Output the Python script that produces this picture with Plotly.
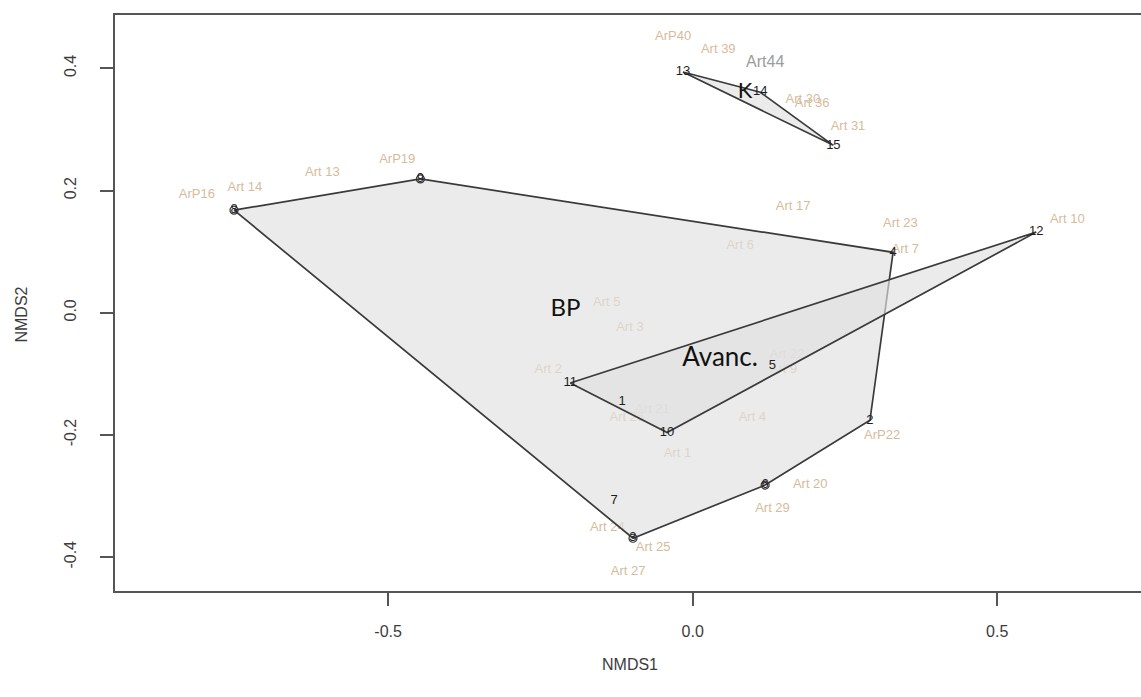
import plotly.graph_objects as go

# ---- site scores (NMDS1, NMDS2) ----
site_ids = ["1", "2", "3", "4", "5", "6", "7", "8", "9", "10", "11", "12", "13", "14", "15"]
site_x = [-0.116, 0.291, -0.098, 0.329, 0.131, 0.119, -0.129, -0.753, -0.447, -0.042, -0.201, 0.564, -0.016, 0.111, 0.231]
site_y = [-0.146, -0.176, -0.369, 0.099, -0.086, -0.282, -0.307, 0.168, 0.219, -0.196, -0.115, 0.132, 0.394, 0.361, 0.274]
site_group = ["Avanc.", "BP", "BP", "BP", "Avanc.", "BP", "BP", "BP", "BP", "Avanc.", "Avanc.", "Avanc.", "K", "K", "K"]
circled_sites = ["3", "6", "8", "9"]

# ---- species scores ----
species = ["ArP40", "Art 39", "Art44", "Art 30", "Art 36", "Art 31", "ArP16", "Art 14", "Art 13", "ArP19",
           "Art 17", "Art 23", "Art 7", "Art 10", "Art 6", "Art 5", "Art 3", "Art 2", "Art 22", "Art 9",
           "Art 21", "Art 26", "Art 4", "Art 1", "ArP22", "Art 20", "Art 29", "Art 24", "Art 25", "Art 27"]
species_x = [-0.032, 0.042, 0.119, 0.181, 0.196, 0.255, -0.814, -0.735, -0.608, -0.485,
             0.165, 0.341, 0.349, 0.615, 0.078, -0.141, -0.103, -0.237, 0.155, 0.149,
             -0.066, -0.108, 0.098, -0.025, 0.311, 0.193, 0.131, -0.140, -0.065, -0.106]
species_y = [0.451, 0.430, 0.409, 0.348, 0.342, 0.304, 0.193, 0.204, 0.230, 0.250,
             0.173, 0.145, 0.103, 0.153, 0.109, 0.016, -0.025, -0.094, -0.069, -0.094,
             -0.159, -0.172, -0.172, -0.230, -0.202, -0.282, -0.321, -0.352, -0.385, -0.424]

# ---- group labels ----
groups = ["BP", "Avanc.", "K"]
group_label_x = [-0.209, 0.045, 0.086]
group_label_y = [0.004, -0.077, 0.361]

x_range = [-0.950, 0.736]
y_range = [-0.457, 0.489]
x_ticks = [-0.5, 0.0, 0.5]
y_ticks = [-0.4, -0.2, 0.0, 0.2, 0.4]


def convex_hull(pts):
    pts = sorted(set(pts))
    if len(pts) <= 2:
        return pts

    def cross(o, a, b):
        return (a[0] - o[0]) * (b[1] - o[1]) - (a[1] - o[1]) * (b[0] - o[0])

    lower, upper = [], []
    for p in pts:
        while len(lower) >= 2 and cross(lower[-2], lower[-1], p) <= 0:
            lower.pop()
        lower.append(p)
    for p in reversed(pts):
        while len(upper) >= 2 and cross(upper[-2], upper[-1], p) <= 0:
            upper.pop()
        upper.append(p)
    return lower[:-1] + upper[:-1]


fig = go.Figure()

# species labels (drawn first so hull fills veil them)
species_colors = ["#9c9c9c" if s == "Art44" else "#d6bc9c" for s in species]
species_sizes = [16 if s == "Art44" else 13 for s in species]
fig.add_trace(go.Scatter(
    x=species_x, y=species_y, mode="text", text=species,
    textfont=dict(family="Liberation Sans, Arial", size=species_sizes, color=species_colors),
    hoverinfo="skip", showlegend=False))

# hull fills
for g in groups:
    pts = [(x, y) for x, y, gg in zip(site_x, site_y, site_group) if gg == g]
    hull = convex_hull(pts)
    hx = [p[0] for p in hull] + [hull[0][0]]
    hy = [p[1] for p in hull] + [hull[0][1]]
    fig.add_trace(go.Scatter(
        x=hx, y=hy, mode="lines", fill="toself",
        fillcolor="rgba(224,224,224,0.66)",
        line=dict(color="#3a3a3a", width=1.7),
        hoverinfo="skip", showlegend=False))

# circled site markers
cx = [x for x, s in zip(site_x, site_ids) if s in circled_sites]
cy = [y for y, s in zip(site_y, site_ids) if s in circled_sites]
fig.add_trace(go.Scatter(
    x=cx, y=cy, mode="markers",
    marker=dict(symbol="circle-open", size=8, color="#333333", line=dict(width=1.2)),
    hoverinfo="skip", showlegend=False))

# site numbers
fig.add_trace(go.Scatter(
    x=site_x, y=site_y, mode="text", text=site_ids,
    textfont=dict(family="Liberation Sans, Arial", size=13, color="#1e1e1e"),
    hoverinfo="skip", showlegend=False))

# group labels
fig.add_trace(go.Scatter(
    x=group_label_x, y=group_label_y, mode="text", text=groups,
    textfont=dict(family="Lato, Open Sans", size=[24, 26, 22], color="#111111"),
    hoverinfo="skip", showlegend=False))

axis_font = dict(family="Liberation Sans, Arial", size=16, color="#3c3c3c")

fig.update_layout(
    width=1141, height=697,
    margin=dict(l=114, r=0, t=14, b=105),
    paper_bgcolor="white", plot_bgcolor="white",
    showlegend=False,
    xaxis=dict(range=x_range, tickvals=x_ticks, ticktext=["-0.5", "0.0", "0.5"],
               showgrid=False, zeroline=False, showline=False,
               ticks="outside", ticklen=13, tickwidth=1.5, tickcolor="#555555",
               tickfont=axis_font, ticklabelstandoff=12),
    yaxis=dict(range=y_range, tickvals=y_ticks, ticktext=["-0.4", "-0.2", "0.0", "0.2", "0.4"],
               showgrid=False, zeroline=False, showline=False,
               ticks="outside", ticklen=13, tickwidth=1.5, tickcolor="#555555",
               tickfont=axis_font, tickangle=-90, ticklabelstandoff=18),
    shapes=[dict(type="rect", xref="paper", yref="paper", x0=0, x1=1.005, y0=0, y1=1,
                 line=dict(color="#555555", width=2), fillcolor="rgba(0,0,0,0)", layer="above")],
    annotations=[
        dict(text="NMDS1", xref="paper", yref="paper", x=0.502, y=-0.126,
             xanchor="center", yanchor="middle", showarrow=False, font=axis_font),
        dict(text="NMDS2", xref="paper", yref="paper", x=-0.0896, y=0.48,
             xanchor="center", yanchor="middle", showarrow=False, font=axis_font, textangle=-90),
    ],
)

fig.write_html("out.html")
